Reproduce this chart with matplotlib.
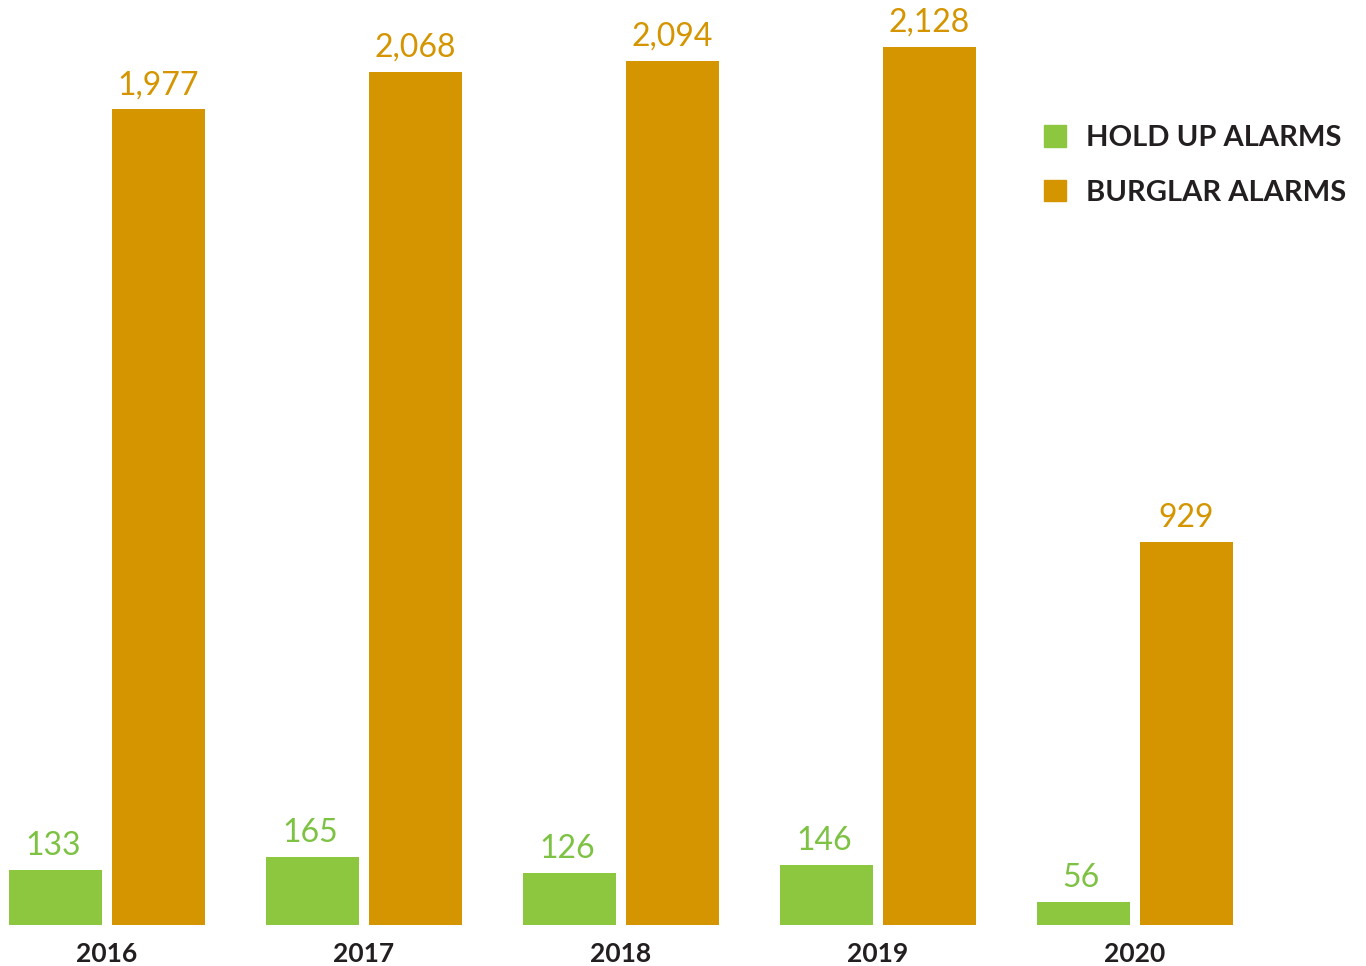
import numpy as np
import matplotlib.pyplot as plt
from matplotlib.patches import Patch

# Datos
years = ['2016', '2017', '2018', '2019', '2020']
hold_up = [133, 165, 126, 146, 56]
burglar = [1977, 2068, 2094, 2128, 929]

green = '#8DC63F'
orange = '#D49500'
dark = '#231F20'

plt.rcParams['font.family'] = ['Lato', 'DejaVu Sans']

fig = plt.figure(figsize=(13.66, 9.66), dpi=100)
ax = fig.add_axes([0, 0.0424, 1, 0.9576])

x = np.arange(len(years))
w = 0.362
off = 0.2

ax.bar(x - off, hold_up, width=w, color=green)
ax.bar(x + off, burglar, width=w, color=orange)

for xi, v in zip(x, hold_up):
    ax.text(xi - off - 0.01, v + 22, f'{v:,}', ha='center', va='bottom',
            fontsize=23, color='#7DC243')
for xi, v in zip(x, burglar):
    ax.text(xi + off, v + 22, f'{v:,}', ha='center', va='bottom',
            fontsize=23, color=orange)

ax.set_xlim(-0.416, 4.899)
ax.set_ylim(0, 2242)
ax.set_xticks(x)
ax.set_xticklabels(years, fontsize=19, fontweight='bold', color=dark)
ax.tick_params(axis='x', length=0, pad=12)
ax.set_yticks([])
for s in ax.spines.values():
    s.set_visible(False)

handles = [Patch(color=green, label='HOLD UP ALARMS'),
           Patch(color=orange, label='BURGLAR ALARMS')]
leg = ax.legend(handles=handles, loc='upper left', bbox_to_anchor=(0.745, 0.893),
                frameon=False, handlelength=0.75, handleheight=0.75,
                handletextpad=0.7, labelspacing=0.97,
                prop={'size': 21, 'weight': 'bold'})
for t in leg.get_texts():
    t.set_color(dark)

fig.savefig('out.png', dpi=100)
